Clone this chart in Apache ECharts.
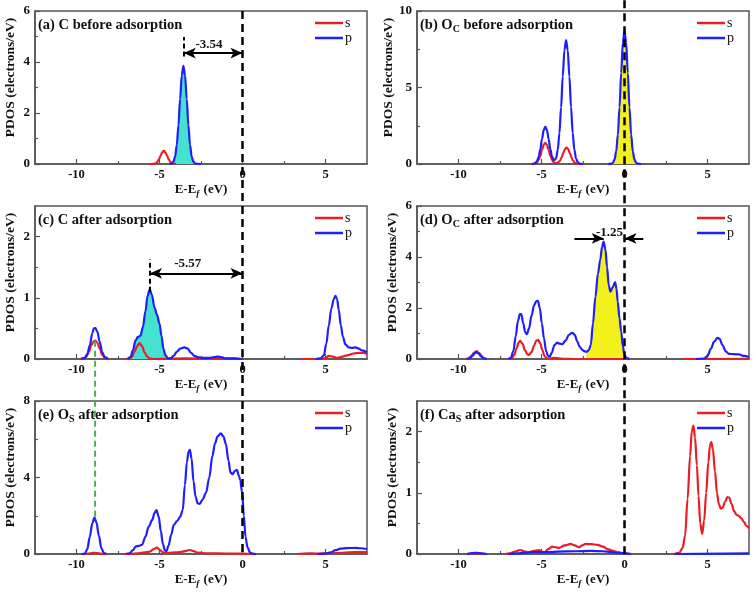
<!DOCTYPE html>
<html><head><meta charset="utf-8">
<script src="https://cdn.jsdelivr.net/npm/echarts@6/dist/echarts.min.js"></script>
<style>html,body{margin:0;padding:0;background:#fff}#c{width:756px;height:592px}</style>
</head><body><div id="c"></div>
<script>
// ---------------- data ----------------
const xMajorTicks = [-10, -5, 0, 5];
const xMinorTicks = [-7.5, -2.5, 2.5];
const panelTitles = [
  '(a) C before adsorption',
  '(b) O{sub|C} before adsorption',
  '(c) C after adsorption',
  '(d) O{sub|C} after adsorption',
  '(e) O{sub|S} after adsorption',
  '(f) Ca{sub|S} after adsorption'
];
const yMaxes = [6, 10, 2.5, 6, 8, 2.5];
const yTickValues = [[0,2,4,6],[0,5,10],[0,1,2],[0,2,4,6],[0,4,8],[0,1,2]];
const yMinorValues = [[1,3,5],[2.5,7.5],[0.5,1.5],[1,3,5],[2,6],[0.5,1.5]];
const legendNames = ['s', 'p'];

// (a) C before adsorption
const sA = [[-5.6,0],[-5.34,0.01],[-5.24,0.02],[-5.14,0.07],[-5.04,0.17],[-4.94,0.32],[-4.84,0.46],[-4.74,0.52],[-4.64,0.46],[-4.54,0.32],[-4.44,0.17],[-4.34,0.07],[-4.24,0.02],[-4.14,0.01],[-4.0,0]];
const pA = [[-4.4,0],[-4.26,0.02],[-4.16,0.09],[-4.06,0.29],[-3.96,0.74],[-3.86,1.52],[-3.76,2.55],[-3.66,3.47],[-3.56,3.85],[-3.46,3.47],[-3.36,2.55],[-3.26,1.52],[-3.16,0.74],[-3.06,0.29],[-2.96,0.09],[-2.86,0.02],[-2.5,0]];
// (b) O_C before adsorption
const sB = [[-5.6,0],[-5.37,0.03],[-5.27,0.11],[-5.17,0.27],[-5.07,0.55],[-4.97,0.92],[-4.87,1.25],[-4.77,1.39],[-4.67,1.25],[-4.57,0.92],[-4.47,0.55],[-4.37,0.27],[-4.27,0.12],[-4.17,0.06],[-4.09,0.07],[-3.99,0.11],[-3.89,0.2],[-3.79,0.42],[-3.69,0.71],[-3.59,0.97],[-3.49,1.07],[-3.39,0.97],[-3.29,0.71],[-3.19,0.42],[-3.09,0.2],[-2.99,0.08],[-2.89,0.03],[-2.7,0]];
const pB = [[-5.6,0],[-5.47,0.015],[-5.37,0.06],[-5.27,0.19],[-5.17,0.47],[-5.07,0.97],[-4.97,1.62],[-4.87,2.21],[-4.77,2.45],[-4.67,2.21],[-4.57,1.62],[-4.47,0.97],[-4.37,0.5],[-4.27,0.27],[-4.19,0.28],[-4.12,0.38],[-4.02,0.92],[-3.92,2.02],[-3.82,3.71],[-3.72,5.72],[-3.62,7.43],[-3.52,8.1],[-3.42,7.43],[-3.32,5.72],[-3.22,3.71],[-3.12,2.02],[-3.02,0.92],[-2.92,0.36],[-2.82,0.12],[-2.72,0.03],[-2.5,0],[-1.8,'-'],
  [-1.0,0],[-0.8,0.02],[-0.7,0.08],[-0.6,0.29],[-0.5,0.82],[-0.4,1.92],[-0.3,3.71],[-0.2,5.96],[-0.1,7.92],[0,8.7],[0.1,7.92],[0.2,5.96],[0.3,3.71],[0.4,1.92],[0.5,0.82],[0.6,0.29],[0.7,0.08],[0.8,0.02],[1.0,0]];
// (c) C after adsorption
const sC = [[-9.8,0],[-9.55,0.01],[-9.4,0.04],[-9.25,0.12],[-9.1,0.23],[-8.97,0.29],[-8.87,0.3],[-8.75,0.27],[-8.6,0.17],[-8.45,0.07],[-8.3,0.02],[-8.1,0],[-7.5,'-'],
  [-7.0,0],[-6.8,0.01],[-6.65,0.04],[-6.5,0.12],[-6.35,0.21],[-6.2,0.26],[-6.05,0.21],[-5.9,0.11],[-5.75,0.04],[-5.6,0.01],[-5.4,0],[-3.5,0.01],[-1.5,0.005],[0,0],[2,'-'],
  [3.5,0],[4.8,0],[5.0,0.02],[5.2,0.05],[5.45,0.04],[5.7,0.02],[5.9,0.03],[6.3,0.06],[6.7,0.09],[7.0,0.1],[7.3,0.1],[7.5,0.08]];
const pC = [[-9.7,0],[-9.5,0.02],[-9.35,0.08],[-9.2,0.22],[-9.05,0.42],[-8.95,0.5],[-8.87,0.51],[-8.75,0.45],[-8.6,0.28],[-8.45,0.11],[-8.3,0.03],[-8.1,0],[-7.5,'-'],
  [-6.9,0],[-6.75,0.03],[-6.6,0.14],[-6.45,0.3],[-6.3,0.36],[-6.15,0.38],[-6.0,0.52],[-5.85,0.78],[-5.72,1.03],[-5.59,1.14],[-5.46,1.05],[-5.3,0.84],[-5.15,0.72],[-5.0,0.58],[-4.88,0.38],[-4.76,0.16],[-4.64,0.06],[-4.5,0.01],[-4.35,0.01],[-4.15,0.05],[-3.95,0.12],[-3.75,0.17],[-3.5,0.19],[-3.3,0.17],[-3.1,0.1],[-2.9,0.05],[-2.7,0.03],[-2.4,0.02],[-2.0,0.02],[-1.7,0.03],[-1.5,0.04],[-1.3,0.03],[-1.0,0.01],[-0.5,0.01],[0,0],[2,'-'],
  [4.4,0],[4.7,0.01],[4.9,0.06],[5.05,0.25],[5.2,0.55],[5.35,0.82],[5.5,0.98],[5.6,1.03],[5.7,0.98],[5.8,0.8],[5.92,0.55],[6.05,0.36],[6.2,0.24],[6.4,0.19],[6.6,0.18],[6.8,0.19],[7.0,0.17],[7.2,0.14],[7.5,0.11]];
// (d) O_C after adsorption
const sD = [[-9.6,0],[-9.4,0.02],[-9.25,0.1],[-9.1,0.22],[-8.92,0.31],[-8.75,0.23],[-8.6,0.1],[-8.45,0.02],[-8.3,0],[-7.5,'-'],
  [-7.0,0],[-6.8,0.02],[-6.65,0.15],[-6.5,0.42],[-6.38,0.64],[-6.29,0.71],[-6.15,0.6],[-6.0,0.35],[-5.85,0.19],[-5.75,0.16],[-5.6,0.27],[-5.45,0.52],[-5.32,0.71],[-5.21,0.75],[-5.08,0.62],[-4.95,0.35],[-4.82,0.12],[-4.68,0.03],[-4.45,0.03],[-4.2,0.05],[-3.95,0.03],[-3.7,0.01],[-3.0,0],[0,0],[2,'-'],
  [3.5,0],[7.5,0.01]];
const pD = [[-9.5,0],[-9.3,0.03],[-9.15,0.13],[-9.02,0.23],[-8.92,0.26],[-8.8,0.22],[-8.65,0.11],[-8.5,0.03],[-8.3,0],[-7.5,'-'],
  [-7.0,0],[-6.85,0.04],[-6.7,0.3],[-6.55,0.9],[-6.42,1.5],[-6.3,1.76],[-6.22,1.76],[-6.1,1.4],[-5.98,1.05],[-5.88,0.97],[-5.75,1.2],[-5.6,1.7],[-5.45,2.1],[-5.32,2.26],[-5.22,2.28],[-5.1,2.0],[-4.98,1.4],[-4.85,0.8],[-4.72,0.3],[-4.6,0.12],[-4.5,0.1],[-4.38,0.25],[-4.22,0.55],[-4.06,0.64],[-3.9,0.6],[-3.75,0.58],[-3.55,0.72],[-3.35,0.95],[-3.15,1.03],[-3.0,0.95],[-2.85,0.7],[-2.7,0.48],[-2.55,0.36],[-2.4,0.3],[-2.3,0.28],[-2.15,0.35],[-2.03,0.55],[-1.9,1.4],[-1.75,2.45],[-1.6,3.35],[-1.46,3.9],[-1.35,4.4],[-1.26,4.6],[-1.15,4.3],[-1.05,3.6],[-0.95,2.9],[-0.85,2.64],[-0.72,2.8],[-0.57,3.02],[-0.48,2.75],[-0.41,2.25],[-0.3,1.6],[-0.2,1.07],[-0.1,0.5],[0,0.16],[0.12,0.04],[0.3,0],[2,'-'],
  [4.3,0],[4.8,0.02],[5.0,0.12],[5.2,0.4],[5.4,0.68],[5.6,0.83],[5.72,0.8],[5.9,0.55],[6.1,0.3],[6.3,0.2],[6.6,0.19],[6.9,0.18],[7.2,0.12],[7.5,0.08]];
// (e) O_S after adsorption
const sE = [[-9.6,0],[-9.3,0.02],[-9.0,0.06],[-8.8,0.05],[-8.5,0.01],[-8.2,0],[-7.8,'-'],
  [-7.2,0],[-6.8,0.01],[-6.3,0.04],[-5.9,0.08],[-5.6,0.12],[-5.35,0.25],[-5.16,0.33],[-4.98,0.22],[-4.8,0.08],[-4.5,0.06],[-4.0,0.08],[-3.6,0.12],[-3.35,0.18],[-3.17,0.21],[-2.95,0.15],[-2.7,0.07],[-2.3,0.04],[-1.5,0.03],[-0.5,0.02],[0.3,0.01],[0.8,0],[2,'-'],
  [3.3,0],[4.0,0.04],[4.5,0.02],[5.2,0.04],[6.0,0.06],[6.8,0.1],[7.5,0.1]];
const pE = [[-9.7,0],[-9.5,0.02],[-9.35,0.25],[-9.2,0.9],[-9.05,1.6],[-8.92,1.9],[-8.8,1.65],[-8.65,0.95],[-8.5,0.3],[-8.35,0.05],[-8.2,0],[-7.8,'-'],
  [-7.0,0],[-6.8,0.04],[-6.6,0.2],[-6.42,0.4],[-6.25,0.42],[-6.05,0.48],[-5.85,0.9],[-5.65,1.43],[-5.44,1.78],[-5.3,2.15],[-5.18,2.3],[-5.05,1.95],[-4.92,1.2],[-4.8,0.55],[-4.68,0.2],[-4.58,0.16],[-4.45,0.45],[-4.3,1.0],[-4.14,1.52],[-3.94,1.72],[-3.75,1.95],[-3.6,2.3],[-3.47,3.6],[-3.35,4.8],[-3.25,5.35],[-3.17,5.44],[-3.07,5.0],[-2.95,3.8],[-2.83,3.0],[-2.7,2.65],[-2.58,2.62],[-2.4,2.85],[-2.2,3.2],[-2.0,4.0],[-1.82,5.1],[-1.65,5.8],[-1.5,6.15],[-1.31,6.31],[-1.15,6.15],[-1.0,5.75],[-0.85,4.9],[-0.72,4.25],[-0.6,4.18],[-0.45,4.35],[-0.34,4.4],[-0.22,4.1],[-0.14,3.87],[-0.02,3.2],[0.08,2.0],[0.18,0.9],[0.3,0.35],[0.45,0.08],[0.6,0.02],[0.8,0],[2,'-'],
  [4.5,0],[5.0,0.02],[5.3,0.08],[5.6,0.2],[5.9,0.28],[6.3,0.31],[6.8,0.32],[7.1,0.3],[7.5,0.26]];
// (f) Ca_S after adsorption
const sF = [[-9.5,0],[-9.0,0.01],[-8.5,0],[-7.8,'-'],
  [-7.2,0],[-6.9,0.01],[-6.6,0.04],[-6.29,0.065],[-6.0,0.04],[-5.78,0.03],[-5.45,0.05],[-5.17,0.065],[-4.95,0.035],[-4.8,0.03],[-4.6,0.08],[-4.36,0.12],[-4.15,0.11],[-3.95,0.1],[-3.6,0.14],[-3.25,0.165],[-3.0,0.14],[-2.74,0.11],[-2.55,0.14],[-2.34,0.165],[-2.0,0.16],[-1.62,0.15],[-1.3,0.12],[-1.02,0.08],[-0.7,0.05],[-0.41,0.03],[0,0.01],[0.4,0],[1.5,'-'],
  [3.0,0],[3.3,0.02],[3.5,0.1],[3.65,0.3],[3.8,0.9],[3.95,1.6],[4.05,2.0],[4.15,2.1],[4.25,1.9],[4.36,1.45],[4.46,0.95],[4.56,0.5],[4.68,0.33],[4.8,0.55],[4.92,1.0],[5.05,1.5],[5.15,1.78],[5.23,1.83],[5.33,1.7],[5.45,1.35],[5.57,1.0],[5.68,0.82],[5.8,0.74],[5.92,0.76],[6.05,0.85],[6.2,0.93],[6.3,0.92],[6.45,0.82],[6.6,0.7],[6.75,0.64],[6.9,0.62],[7.05,0.58],[7.2,0.52],[7.35,0.46],[7.5,0.42]];
const pF = [[-9.5,0],[-9.1,0.015],[-8.9,0.02],[-8.6,0.01],[-8.3,0],[-7.8,'-'],
  [-7.0,0],[-6.5,0.01],[-6.0,0.02],[-5.5,0.03],[-5.0,0.03],[-4.5,0.03],[-4.0,0.04],[-3.0,0.045],[-2.0,0.05],[-1.3,0.045],[-0.8,0.03],[-0.4,0.02],[0,0.01],[0.4,0],[1.5,'-'],
  [3.0,0],[7.5,0.01]];

const sSeries = [sA, sB, sC, sD, sE, sF];
const pSeries = [pA, pB, pC, pD, pE, pF];
// shaded ranges of p (panel index, from, to, colour)
const fillRanges = [[0, -4.5, -2.4, '#45e3cf'], [1, -1.05, 1.05, '#f2f21a'], [2, -6.8, -4.6, '#45e3cf'], [3, -2.35, 0.0, '#f2f21a']];
// annotation values
const shiftA = -3.54, shiftC = -5.57, shiftD = -1.25;

// ---------------- layout ----------------
const FONT = '"Liberation Serif","Times New Roman",serif';
const RED = '#ec1c24', BLUE = '#1e1eff', AXIS = '#555';
const gl = [35, 417, 35, 417, 35, 417];
const gt = [11, 11, 206, 206, 401, 401];
const GW = 332, GH = 153;

const grids = [], xAxes = [], yAxes = [], yMinorAxes = [], series = [], titles = [], legends = [];
for (let i = 0; i < 6; i++) {
  grids.push({left: gl[i], top: gt[i], width: GW, height: GH, show: true, borderColor: AXIS, borderWidth: 1.5,
    containLabel: false, outerBoundsMode: 'none'});
  xAxes.push({gridIndex: i, type: 'value', min: -12.5, max: 7.5,
    axisLine: {onZero: false, lineStyle: {color: AXIS, width: 1.5}},
    axisTick: {inside: true, length: 5, lineStyle: {color: AXIS, width: 1.2}, customValues: xMajorTicks},
    axisLabel: {customValues: xMajorTicks, fontFamily: FONT, fontWeight: 'bold', fontSize: 12.5, color: '#111', margin: 4},
    splitLine: {show: false},
    name: 'E-E{f|f} (eV)', nameLocation: 'middle', nameGap: 18,
    nameTextStyle: {fontFamily: FONT, fontWeight: 'bold', fontSize: 13, color: '#111',
      rich: {f: {fontFamily: FONT, fontStyle: 'italic', fontWeight: 'bold', fontSize: 9, color: '#111', verticalAlign: 'bottom', padding: [7, 1, 0, 0]}}}
  });
  xAxes.push({gridIndex: i, type: 'value', min: -12.5, max: 7.5, position: 'bottom',
    axisLine: {show: false, onZero: false}, axisLabel: {show: false}, splitLine: {show: false},
    axisTick: {inside: true, length: 3, lineStyle: {color: AXIS, width: 1.2}, customValues: xMinorTicks}});
  yAxes.push({gridIndex: i, type: 'value', min: 0, max: yMaxes[i], position: 'left',
    axisLine: {show: true, onZero: false, lineStyle: {color: AXIS, width: 1.5}},
    axisTick: {show: true, inside: true, length: 5, lineStyle: {color: AXIS, width: 1.2}, customValues: yTickValues[i]},
    axisLabel: {customValues: yTickValues[i], fontFamily: FONT, fontWeight: 'bold', fontSize: 13, color: '#111', margin: 5},
    splitLine: {show: false},
    name: 'PDOS (electrons/eV)', nameLocation: 'middle', nameGap: 17,
    nameTextStyle: {fontFamily: FONT, fontWeight: 'bold', fontSize: 13.5, color: '#111', padding: [0, 0, 0, 20]}
  });
  yMinorAxes.push({gridIndex: i, type: 'value', min: 0, max: yMaxes[i], position: 'left',
    axisLine: {show: false, onZero: false}, axisLabel: {show: false}, splitLine: {show: false},
    axisTick: {show: true, inside: true, length: 3, lineStyle: {color: AXIS, width: 1.2}, customValues: yMinorValues[i]}});
  titles.push({text: panelTitles[i], left: gl[i] + 3, top: gt[i] + 5, padding: 0,
    textStyle: {fontFamily: FONT, fontWeight: 'bold', fontSize: 14.5, color: '#111', lineHeight: 18,
      rich: {sub: {fontFamily: FONT, fontWeight: 'bold', fontSize: 10, color: '#111', verticalAlign: 'bottom', lineHeight: 12, padding: [6, 0, 0, 0]}}}});
  legends.push({data: legendNames, orient: 'vertical', left: gl[i] + 280, top: gt[i] + 5, padding: 0,
    icon: 'rect', itemWidth: 28, itemHeight: 2.5, itemGap: 1, selectedMode: false,
    textStyle: {fontFamily: FONT, fontSize: 14, color: '#111', lineHeight: 13, padding: [0, 0, 0, -3]}});
}

const lineBase = (i) => ({type: 'line', xAxisIndex: 2 * i, yAxisIndex: i, symbol: 'none', showSymbol: false, smooth: 0.35,
  smoothMonotone: 'x', connectNulls: false, silent: true, animation: false});

fillRanges.forEach(([i, a, b, col]) => {
  series.push(Object.assign(lineBase(i), {name: 'fill' + i, z: 1,
    data: pSeries[i].filter(d => d[0] >= a && d[0] <= b && d[1] !== '-'),
    lineStyle: {width: 0}, areaStyle: {color: col, opacity: 1}}));
});
for (let i = 0; i < 6; i++) {
  series.push(Object.assign(lineBase(i), {name: 's', z: 3, data: sSeries[i], lineStyle: {color: RED, width: 2.2}, itemStyle: {color: RED}}));
  series.push(Object.assign(lineBase(i), {name: 'p', z: 4, data: pSeries[i], lineStyle: {color: BLUE, width: 2.2}, itemStyle: {color: BLUE}}));
}

// arrows (mark lines in data coordinates)
const arrowStyle = {color: '#000', width: 2, type: 'solid'};
const dashStyle = {color: '#000', width: 2, type: [5, 3]};
function addMarks(i, lines) {
  series.push(Object.assign(lineBase(i), {name: 'mark' + i, z: 6, data: [],
    markLine: {silent: true, animation: false, symbolSize: 10, label: {show: false}, lineStyle: arrowStyle, data: lines}}));
}
addMarks(0, [
  [{coord: [shiftA, 4.35], symbol: 'arrow', symbolSize: [8, 12]}, {coord: [0, 4.35], symbol: 'arrow', symbolSize: [8, 12]}],
  [{coord: [shiftA, 4.22], symbol: 'none', lineStyle: dashStyle}, {coord: [shiftA, 4.98], symbol: 'none'}]
]);
addMarks(2, [
  [{coord: [shiftC, 1.4], symbol: 'arrow', symbolSize: [8, 12]}, {coord: [0, 1.4], symbol: 'arrow', symbolSize: [8, 12]}],
  [{coord: [shiftC, 1.1], symbol: 'none', lineStyle: dashStyle}, {coord: [shiftC, 1.63], symbol: 'none'}]
]);
addMarks(3, [
  [{coord: [-3.02, 4.73], symbol: 'none'}, {coord: [shiftD, 4.73], symbol: 'arrow', symbolSize: [8, 12]}],
  [{coord: [1.13, 4.73], symbol: 'none'}, {coord: [0, 4.73], symbol: 'arrow', symbolSize: [8, 12]}]
]);

const chart = echarts.init(document.getElementById('c'), null, {renderer: 'canvas'});
chart.setOption({backgroundColor: '#fff', animation: false, grid: grids, xAxis: xAxes, yAxis: yAxes.concat(yMinorAxes),
  series: series, title: titles, legend: legends});

// cross-panel guide lines & labels, positioned via the axes
const X = (i, v) => chart.convertToPixel({xAxisIndex: 2 * i}, v);
const Y = (i, v) => chart.convertToPixel({yAxisIndex: i}, v);
const efStyle = {stroke: '#000', lineWidth: 2.5, lineDash: [8, 5]};
const txt = (x, y, t) => ({type: 'text', x: x, y: y, z: 120,
  style: {text: t, font: 'bold 13px ' + FONT, fill: '#111', align: 'center', verticalAlign: 'middle'}});
chart.setOption({graphic: [
  {type: 'line', z: 100, shape: {x1: X(0, 0), y1: Y(0, 6), x2: X(4, 0), y2: Y(4, 0)}, style: efStyle},
  {type: 'line', z: 100, shape: {x1: X(1, 0), y1: Y(1, 10.7), x2: X(5, 0), y2: Y(5, 0)}, style: efStyle},
  {type: 'line', z: 100, shape: {x1: X(2, -8.88), y1: Y(2, 0.3), x2: X(4, -8.88), y2: Y(4, 1.9)},
    style: {stroke: '#4cb050', lineWidth: 2, lineDash: [6, 4]}},
  txt(X(0, -2.02), Y(0, 4.7), String(shiftA)),
  txt(X(2, -3.3), Y(2, 1.55), String(shiftC)),
  txt(X(3, -0.9), Y(3, 4.97), String(shiftD))
]});
</script></body></html>
